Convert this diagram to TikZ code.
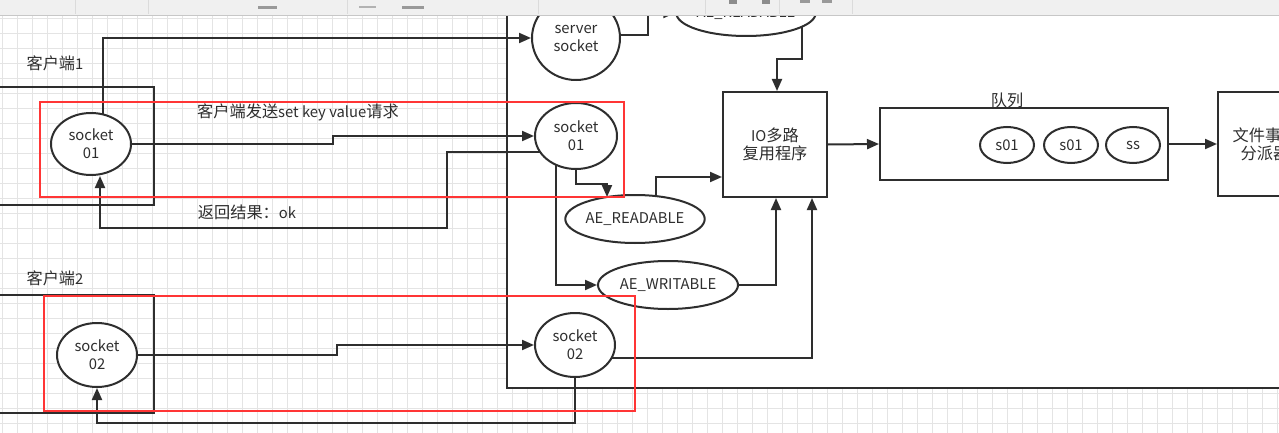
\documentclass[tikz,border=0pt]{standalone}
\usepackage{fontspec}
\setmainfont{Noto Sans CJK SC}
\usetikzlibrary{shapes.geometric,arrows.meta,calc}
\pgfdeclarelayer{bg}\pgfdeclarelayer{edges}\pgfdeclarelayer{top}
\pgfsetlayers{bg,edges,main,top}
\definecolor{ln}{HTML}{2E2E2E}
\definecolor{redb}{HTML}{FF3535}
\definecolor{gridc}{HTML}{E4E4E4}
\newcommand\fs{\fontsize{14.8}{18}\selectfont}
\newcommand\zh[1]{{\fontsize{16.2}{18}\selectfont #1}}
\tikzset{
 ell/.style={ellipse, draw=ln, line width=2pt, fill=white, inner sep=0pt, align=center, font=\fs, text=ln},
 box/.style={rectangle, draw=ln, line width=2pt, fill=white, inner sep=0pt, align=center, font=\fs, text=ln},
 openbox/.style={rectangle, draw=ln, line width=2pt, inner sep=0pt},
 conn/.style={draw=ln, line width=2pt, -{Triangle[length=12pt,width=10pt]}},
 lab/.style={inner sep=0pt, font=\fs, text=ln},
 redbox/.style={rectangle, draw=redb, line width=2.6pt, inner sep=0pt},
}
\begin{document}
\begin{tikzpicture}[x=1pt,y=-1pt]
\useasboundingbox (0,0) rectangle (1279,433);
\clip (0,0) rectangle (1279,433);
\begin{pgfonlayer}{bg}
 \fill[white] (0,0) rectangle (1279,433);
 \foreach \x in {2,17,...,1279} \draw[gridc, line width=0.7pt] (\x,0) -- (\x,433);
 \foreach \y in {3,18,...,433} \draw[gridc, line width=0.7pt] (0,\y) -- (1279,\y);
 \node[box, minimum width=793pt, minimum height=408pt] (srv) at (903.5,184) {};
 \node[openbox, minimum width=174pt, minimum height=118pt] (c1box) at (67,146) {};
 \node[openbox, minimum width=174pt, minimum height=118pt] (c2box) at (67,354) {};
\end{pgfonlayer}

% labels
\node[lab] (c1lab) at (55,63) {\zh{客户端}1};
\node[lab] (c2lab) at (55,278) {\zh{客户端}2};
\node[lab] (reqlab) at (298,112) {\zh{客户端发送}set key value\zh{请求}};
\node[lab] (retlab) at (247,212) {\zh{返回结果：}ok};
\node[lab] (qlab) at (1007,100) {\zh{队列}};

% client sockets
\node[ell, minimum width=80pt, minimum height=62pt] (cs1) at (91,144) {socket\\01};
\node[ell, minimum width=80pt, minimum height=64pt] (cs2) at (97,355) {socket\\02};

% server side
\node[ell, minimum width=88pt, minimum height=84pt] (ssrv) at (576,38) {server\\socket};
\node[ell, minimum width=138pt, minimum height=46pt] (rtop) at (746,13) {AE\_READABLE};
\node[ell, minimum width=82pt, minimum height=66pt] (ss1) at (576,136) {socket\\01};
\node[ell, minimum width=80pt, minimum height=64pt] (ss2) at (575,345) {socket\\02};
\node[ell, minimum width=136pt, minimum height=48pt] (aer) at (635,219) {AE\_READABLE};
\node[ell, minimum width=140pt, minimum height=48pt] (aew) at (668,285) {AE\_WRITABLE};
\node[box, minimum width=104pt, minimum height=105pt] (io) at (775,144.5) {IO\zh{多路}\\\zh{复用程序}};
\node[box, minimum width=288pt, minimum height=72pt] (queue) at (1024,144) {};
\node[ell, minimum width=54pt, minimum height=36pt] (q1) at (1007,145) {s01};
\node[ell, minimum width=54pt, minimum height=36pt] (q2) at (1071,145) {s01};
\node[ell, minimum width=54pt, minimum height=36pt] (q3) at (1133,145) {ss};
\node[box, minimum width=94pt, minimum height=104pt] (fd) at (1265,144) {\zh{文件事件}\\\zh{分派器}};

\begin{pgfonlayer}{edges}
 % client 1
 \draw[conn] ([xshift=12pt]cs1.center) |- (ssrv.west);
 \draw[conn] (cs1.east) -| (333,136) -- (ss1.west);
 \draw[conn] ([yshift=-16pt]ss1.center) -| (447,228) -| ([xshift=9pt]cs1.south);
 % client 2
 \draw[conn] (cs2.east) -| (337,345) -- (ss2.west);
 \coordinate (r2) at (97,423);
 \draw[conn] (ss2.center) |- (r2) -- (cs2.south);
 % server socket
 \draw[conn] ([yshift=3pt]ssrv.center) -| (648,13) -- (rtop.west);
 \draw[conn] ([xshift=56pt]rtop.center) |- (777,59) -- ([xshift=2pt]io.north);
 % socket01 events
 \draw[conn] (ss1.center) |- (607,184) -- (607,197);
 \draw[conn] ([xshift=-20pt]ss1.center) |- (aew.west);
 \draw[conn] ([xshift=21pt]aer.center) |- ([yshift=-32.5pt]io.west);
 \draw[conn] (aew.east) -| ([xshift=1pt]io.south);
 \draw[conn] ([yshift=-13pt]ss2.center) -| ([xshift=37pt]io.south);
 % pipeline
 \draw[conn] (io.east) -- (queue.west);
 \draw[conn] (queue.east) -- (fd.west);
\end{pgfonlayer}

\begin{pgfonlayer}{top}
 \node[redbox, minimum width=584pt, minimum height=95pt] (red1) at (332,149.5) {};
 \node[redbox, minimum width=591pt, minimum height=115pt] (red2) at (339.5,353.5) {};
 % toolbar strip
 \fill[black!6] (0,0) rectangle (1279,15);
 \draw[black!22, line width=1.2pt] (0,15.5) -- (1279,15.5);
 \foreach \x in {75,148,347,538,705,779,852} \draw[black!14, line width=0.8pt] (\x,0) -- (\x,14);
 \fill[black!40] (258,6) rectangle (277,9);
 \fill[black!30] (359,6) rectangle (376,8);
 \fill[black!40] (402,6) rectangle (424,9);
 \fill[black!45] (729,0) rectangle (737,4);
 \fill[black!45] (762,0) rectangle (770,4);
 \fill[black!40] (800,0) rectangle (810,3);
 \fill[black!40] (822,0) rectangle (832,3);
\end{pgfonlayer}
\end{tikzpicture}
\end{document}
